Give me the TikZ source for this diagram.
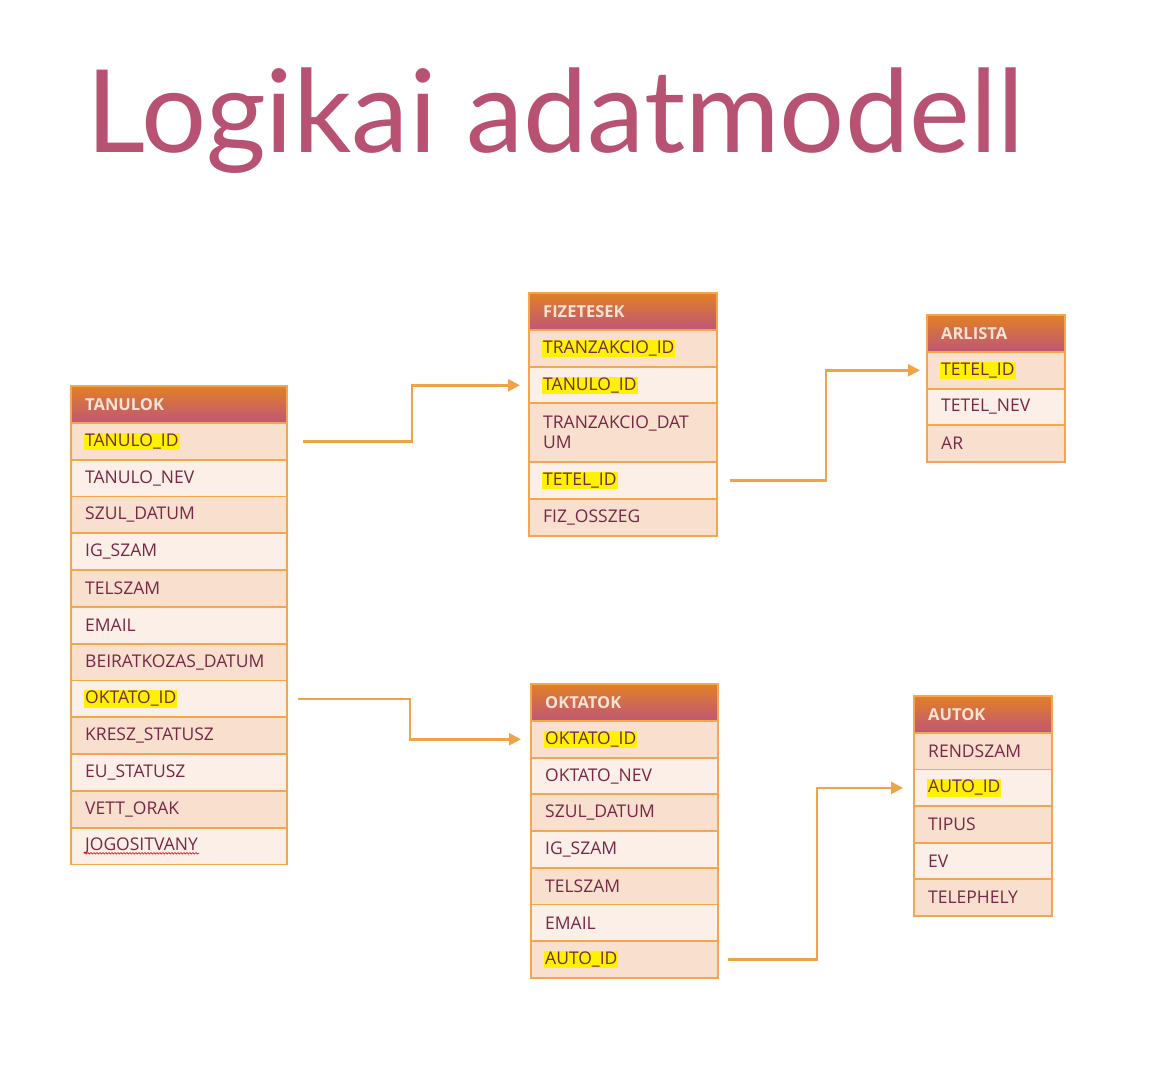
\documentclass[tikz,border=0pt]{standalone}
\usepackage{fontspec}
\setmainfont{Open Sans}
\newfontfamily\titlefont{Lato}
\usetikzlibrary{arrows.meta,positioning,decorations.pathmorphing}

\definecolor{titlecol}{RGB}{184,82,114}
\definecolor{hdrtop}{RGB}{226,128,38}
\definecolor{hdrbot}{RGB}{190,86,118}
\definecolor{hdrtext}{RGB}{250,226,212}
\definecolor{tblborder}{RGB}{244,166,78}
\definecolor{row1}{RGB}{248,223,206}
\definecolor{row0}{RGB}{252,239,232}
\definecolor{fldtext}{RGB}{118,40,70}
\definecolor{linkcol}{RGB}{240,164,72}

\tikzset{
  hdr/.style={draw=tblborder, line width=2pt, top color=hdrtop, bottom color=hdrbot,
    minimum height=37, anchor=north west, inner sep=0pt},
  hdrtxt/.style={anchor=west, text=hdrtext, inner sep=0pt,
    font=\fontsize{16.5}{19}\selectfont\bfseries},
  fld/.style={draw=tblborder, line width=1.8pt, minimum height=36.8,
    anchor=north west, inner sep=0pt},
  key/.style={anchor=west, fill=yellow, inner sep=1pt, text=fldtext,
    font=\fontsize{17.5}{20}\selectfont},
  plain/.style={anchor=west, inner sep=1pt, text=fldtext,
    font=\fontsize{17.5}{20}\selectfont},
  link/.style={draw=linkcol, line width=2.5pt, -{Triangle[length=12pt,width=12pt]}}
}

\begin{document}
\begin{tikzpicture}[x=1pt,y=-1pt]
  \useasboundingbox (0,0) rectangle (1171,1090);
  \node[anchor=base west, inner sep=0pt, text=titlecol,
    font=\titlefont\fontsize{115}{130}\selectfont] (title) at (86,152) {Logikai adatmodell};

  % TANULOK
  \node[hdr, minimum width=216] (tanulok) at (70,385) {};
  \node[hdrtxt] (tanulok-t) at ([xshift=15]tanulok.west) {TANULOK};
  \foreach \txt/\st [count=\i] in {TANULO\_ID/key, TANULO\_NEV/plain, SZUL\_DATUM/plain,
      IG\_SZAM/plain, TELSZAM/plain, EMAIL/plain, BEIRATKOZAS\_DATUM/plain,
      OKTATO\_ID/key, KRESZ\_STATUSZ/plain, EU\_STATUSZ/plain, VETT\_ORAK/plain,
      JOGOSITVANY/plain} {
    \pgfmathtruncatemacro\c{mod(\i,2)}
    \node[fld, fill=row\c, minimum width=216] (tanulok-\i) at (70,{422+36.8*(\i-1)}) {};
    \node[\st] (tanulok-\i-t) at ([xshift=14]tanulok-\i.west) {\txt};
  }
  \draw[red, line width=0.6pt, decorate, decoration={snake, amplitude=0.8pt, segment length=3pt}]
    ([yshift=2]tanulok-12-t.south west) -- ([yshift=2]tanulok-12-t.south east);

  % FIZETESEK
  \node[hdr, minimum width=188] (fiz) at (528,292) {};
  \node[hdrtxt] (fiz-t) at ([xshift=15]fiz.west) {FIZETESEK};
  \node[fld, fill=row1, minimum width=188] (fiz-1) at (528,329) {};
  \node[fld, fill=row0, minimum width=188] (fiz-2) at (528,366) {};
  \node[fld, fill=row1, minimum width=188, minimum height=59] (fiz-3) at (528,402) {};
  \node[fld, fill=row0, minimum width=188] (fiz-4) at (528,461) {};
  \node[fld, fill=row1, minimum width=188] (fiz-5) at (528,498) {};
  \node[key] (fiz-1-t) at ([xshift=14]fiz-1.west) {TRANZAKCIO\_ID};
  \node[key] (fiz-2-t) at ([xshift=14]fiz-2.west) {TANULO\_ID};
  \node[plain, align=left] (fiz-3-t) at ([xshift=14]fiz-3.west) {TRANZAKCIO\_DAT\\UM};
  \node[key] (fiz-4-t) at ([xshift=14]fiz-4.west) {TETEL\_ID};
  \node[plain] (fiz-5-t) at ([xshift=14]fiz-5.west) {FIZ\_OSSZEG};

  % ARLISTA
  \node[hdr, minimum width=138] (arlista) at (926,314) {};
  \node[hdrtxt] (arlista-t) at ([xshift=15]arlista.west) {ARLISTA};
  \foreach \txt/\st [count=\i] in {TETEL\_ID/key, TETEL\_NEV/plain, AR/plain} {
    \pgfmathtruncatemacro\c{mod(\i,2)}
    \node[fld, fill=row\c, minimum width=138] (arlista-\i) at (926,{351+36.7*(\i-1)}) {};
    \node[\st] (arlista-\i-t) at ([xshift=14]arlista-\i.west) {\txt};
  }

  % OKTATOK
  \node[hdr, minimum width=187] (oktatok) at (530,683) {};
  \node[hdrtxt] (oktatok-t) at ([xshift=15]oktatok.west) {OKTATOK};
  \foreach \txt/\st [count=\i] in {OKTATO\_ID/key, OKTATO\_NEV/plain, SZUL\_DATUM/plain,
      IG\_SZAM/plain, TELSZAM/plain, EMAIL/plain, AUTO\_ID/key} {
    \pgfmathtruncatemacro\c{mod(\i,2)}
    \node[fld, fill=row\c, minimum width=187] (oktatok-\i) at (530,{720+36.7*(\i-1)}) {};
    \node[\st] (oktatok-\i-t) at ([xshift=14]oktatok-\i.west) {\txt};
  }

  % AUTOK
  \node[hdr, minimum width=138] (autok) at (913,695) {};
  \node[hdrtxt] (autok-t) at ([xshift=15]autok.west) {AUTOK};
  \foreach \txt/\st [count=\i] in {RENDSZAM/plain, AUTO\_ID/key, TIPUS/plain, EV/plain,
      TELEPHELY/plain} {
    \pgfmathtruncatemacro\c{mod(\i,2)}
    \node[fld, fill=row\c, minimum width=138] (autok-\i) at (913,{732+36.6*(\i-1)}) {};
    \node[\st] (autok-\i-t) at ([xshift=14]autok-\i.west) {\txt};
  }

  % kapcsolatok
  \draw[link] ([xshift=15]tanulok-1.east) -- ++(109,0) |- ([xshift=-8]fiz-2.west);
  \draw[link] ([xshift=12]fiz-4.east) -- ++(96,0) |- ([xshift=-6]arlista-1.west);
  \draw[link] ([xshift=10]tanulok-8.east) -- ++(112,0) |- ([xshift=-9]oktatok-1.west);
  \draw[link] ([xshift=9]oktatok-7.east) -- ++(89,0) |- ([xshift=-10]autok-2.west);
\end{tikzpicture}
\end{document}
